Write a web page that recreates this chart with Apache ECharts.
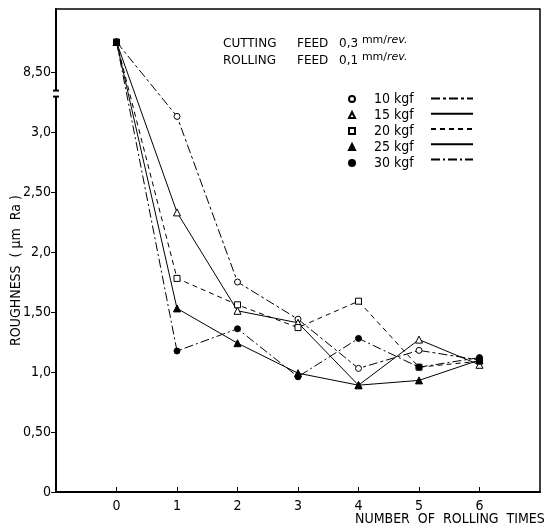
<!DOCTYPE html>
<html>
<head>
<meta charset="utf-8">
<script src="https://cdn.jsdelivr.net/npm/echarts@6/dist/echarts.min.js"></script>
<style>
  html, body { margin: 0; padding: 0; background: #fff; }
  #chart { width: 548px; height: 530px; }
</style>
</head>
<body>
<div id="chart"></div>
<script>
// rolling times (x)
var rollingTimes = [0, 1, 2, 3, 4, 5, 6];

// roughness, um Ra (real values; the axis is broken between 3,0 and 8,50)
var rough10 = [8.75, 3.13, 1.75, 1.44, 1.03, 1.18, 1.10];
var rough15 = [8.75, 2.33, 1.51, 1.41, 0.89, 1.27, 1.06];
var rough20 = [8.75, 1.78, 1.56, 1.37, 1.59, 1.04, 1.09];
var rough25 = [8.75, 1.53, 1.24, 0.99, 0.89, 0.93, 1.10];
var rough30 = [8.75, 1.175, 1.36, 0.96, 1.28, 1.04, 1.12];

var seriesNames = ['10 kgf', '15 kgf', '20 kgf', '25 kgf', '30 kgf'];

// y tick positions and their labels (8,50 sits above the break)
var yTickValues = [0, 0.5, 1, 1.5, 2, 2.5, 3, 3.5];
var yTickLabels = ['0', '0,50', '1,0', '1,50', '2,0', '2,50', '3,0', '8,50'];
var xTickValues = [0, 1, 2, 3, 4, 5, 6];

var BREAK_SHIFT = 5;   // 8,50 is drawn where 3,50 would be
var BREAK_AT = 3.32;

function toAxis(v) {
    return v > 5 ? v - BREAK_SHIFT : v;
}

function pairs(ys) {
    var out = [];
    for (var i = 0; i < rollingTimes.length; i++) {
        out.push([rollingTimes[i], toAxis(ys[i])]);
    }
    return out;
}

var FONT = 'DejaVu Sans Condensed';
var WIDE = 'DejaVu Sans';

function lineSeries(name, ys, symbol, fill, dash) {
    return {
        name: name,
        type: 'line',
        data: pairs(ys),
        symbol: symbol,
        symbolSize: symbol === 'triangle' ? 7 : 6,
        showAllSymbol: true,
        animation: false,
        itemStyle: { color: fill, borderColor: '#000', borderWidth: 1 },
        lineStyle: { color: '#000', width: 1, type: dash }
    };
}

var series = [
    lineSeries(seriesNames[0], rough10, 'circle', '#fff', [9, 3, 3, 3]),
    lineSeries(seriesNames[1], rough15, 'triangle', '#fff', 'solid'),
    lineSeries(seriesNames[2], rough20, 'rect', '#fff', [5, 4]),
    lineSeries(seriesNames[3], rough25, 'triangle', '#000', 'solid'),
    lineSeries(seriesNames[4], rough30, 'circle', '#000', [9, 3, 2, 3])
];

var txt = { fontFamily: WIDE, fontSize: 12, fontWeight: 'normal', color: '#000', lineHeight: 17 };
var sup = { fontFamily: WIDE, fontSize: 11, fontWeight: 'normal', color: '#000', verticalAlign: 'top', padding: [0, 0, 4, 0] };

var option = {
    animation: false,
    textStyle: { fontFamily: FONT, color: '#000' },
    grid: {
        left: 56, right: 8, top: 9, bottom: 38,
        outerBoundsMode: 'none',
        show: true, borderColor: '#000', borderWidth: 1.5
    },
    title: [
        {
            text: '{a|CUTTING}{f|FEED}{v|0,3 }{b|mm/}{c|rev.}\n{a|ROLLING}{f|FEED}{v|0,1 }{b|mm/}{c|rev.}',
            left: 218, top: 30,
            textStyle: {
                rich: {
                    a: Object.assign({ width: 74 }, txt),
                    f: Object.assign({ width: 42 }, txt),
                    v: txt,
                    b: sup,
                    c: Object.assign({ fontStyle: 'italic' }, sup)
                }
            }
        },
        {
            text: 'NUMBER  OF  ROLLING  TIMES',
            left: 350, top: 507,
            textStyle: { fontFamily: FONT, fontSize: 14, fontWeight: 'normal', color: '#000' }
        }
    ],
    legend: [
        {
            orient: 'vertical',
            left: 343, top: 87,
            itemWidth: 6, itemHeight: 6, itemGap: 2,
            selectedMode: false,
            textStyle: { fontFamily: FONT, fontSize: 14, color: '#000', lineHeight: 14, padding: [0, 0, 0, 14] },
            data: [
                { name: seriesNames[0], icon: 'circle' },
                { name: seriesNames[1], icon: 'triangle' },
                { name: seriesNames[2], icon: 'rect' },
                { name: seriesNames[3], icon: 'triangle' },
                { name: seriesNames[4], icon: 'circle' }
            ]
        },
        {
            orient: 'vertical',
            left: 425, top: 87,
            itemWidth: 42, itemHeight: 14, itemGap: 2,
            selectedMode: false,
            formatter: function () { return ''; },
            textStyle: { fontSize: 14, lineHeight: 14 },
            itemStyle: { color: 'transparent', borderColor: 'transparent' },
            data: seriesNames
        }
    ],
    xAxis: {
        type: 'value',
        min: -1, max: 7, interval: 1,
        splitLine: { show: false },
        axisLine: { onZero: false, lineStyle: { color: '#000', width: 2 } },
        axisTick: { inside: true, length: 5, customValues: xTickValues, lineStyle: { color: '#000' } },
        axisLabel: {
            customValues: xTickValues,
            fontFamily: FONT, fontSize: 14, color: '#000', margin: 7
        }
    },
    yAxis: {
        type: 'value',
        min: 0, max: 4.025,
        splitLine: { show: false },
        axisLine: { onZero: false, lineStyle: { color: '#000', width: 2 } },
        axisTick: { length: 5, customValues: yTickValues, lineStyle: { color: '#000' } },
        axisLabel: {
            customValues: yTickValues,
            fontFamily: FONT, fontSize: 14, color: '#000', margin: 5,
            formatter: function (v) {
                for (var i = 0; i < yTickValues.length; i++) {
                    if (Math.abs(yTickValues[i] - v) < 1e-6) return yTickLabels[i];
                }
                return '';
            }
        },
        name: 'ROUGHNESS  ( \u00b5m  Ra )',
        nameLocation: 'middle',
        nameGap: 33,
        nameMoveOverlap: false,
        nameTextStyle: { fontFamily: FONT, fontSize: 14, color: '#000', padding: [0, 40, 0, 0] }
    },
    series: series
};

var myChart = echarts.init(document.getElementById('chart'));
myChart.setOption(option);

// axis break marker on the y axis
var bx = myChart.convertToPixel({ xAxisIndex: 0 }, -1);
var byTop = myChart.convertToPixel({ yAxisIndex: 0 }, BREAK_AT + 0.025);
var byBot = myChart.convertToPixel({ yAxisIndex: 0 }, BREAK_AT - 0.025);
myChart.setOption({
    graphic: [
        { type: 'rect', shape: { x: bx - 3, y: byTop, width: 6, height: byBot - byTop }, style: { fill: '#fff' }, z: 100 },
        { type: 'line', shape: { x1: bx - 3, y1: byTop, x2: bx + 3, y2: byTop }, style: { stroke: '#000', lineWidth: 2 }, z: 101 },
        { type: 'line', shape: { x1: bx - 3, y1: byBot, x2: bx + 3, y2: byBot }, style: { stroke: '#000', lineWidth: 2 }, z: 101 }
    ]
});
</script>
</body>
</html>
